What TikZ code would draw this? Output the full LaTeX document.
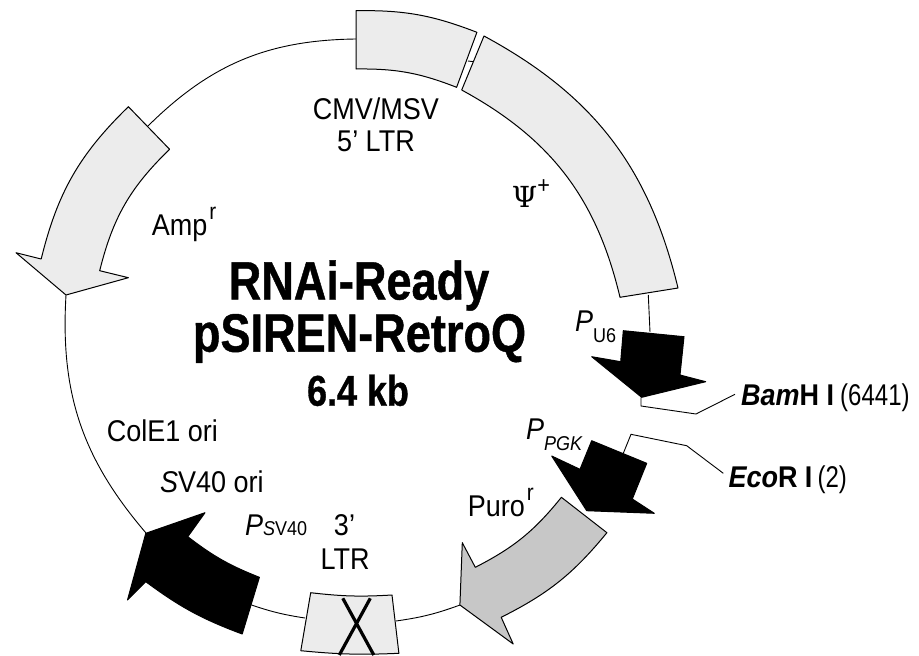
\documentclass[tikz,border=0pt]{standalone}
\usepackage{fontspec}
\setmainfont[FakeStretch=0.9]{Liberation Sans}
\newfontfamily\titlefont[UprightFont=* Bold,FakeStretch=0.835,FakeBold=0.8]{Liberation Sans}
\newfontfamily\narrowfont[FakeStretch=0.8]{Liberation Sans}
\newfontfamily\psifont{DejaVu Serif}
\tikzset{
 seg/.style={draw=black,line width=1pt,fill=#1,line join=round},
 backbone/.style={draw=black,line width=0.9pt},
 lab/.style={inner sep=0,anchor=base west,font=\fontsize{30}{30}\selectfont},
 labc/.style={inner sep=0,anchor=base,font=\fontsize{30}{30}\selectfont},
 title/.style={inner sep=0,anchor=base,font=\fontsize{54}{54}\titlefont},
 site/.style={inner sep=0,anchor=base west,font=\fontsize{30}{30}\selectfont},
}
\newcommand{\supr}{\hspace{2pt}\raisebox{16pt}{\fontsize{23}{23}\selectfont r}}
\definecolor{lgray}{gray}{0.925}
\definecolor{mgray}{gray}{0.78}
\begin{document}
\begin{tikzpicture}[x=1pt,y=-1pt]
\useasboundingbox (0,0) rectangle (919,656);
% backbone
\coordinate (n1) at (148,126);
\coordinate (n2) at (356,39);
\coordinate (n3) at (66,295);
\coordinate (n4) at (146,533);
\coordinate (n5) at (251.5,605);
\coordinate (n6) at (305,618);
\coordinate (n7) at (396,621);
\coordinate (n8) at (460,605);
\draw[backbone] (n1) to[bend left=22] (n2);
\draw[backbone] (n3) to[bend right=22] (n4);
\draw[backbone] (n5) to[bend right=5] (n6);
\draw[backbone] (n7) to[bend right=6] (n8);
\draw[backbone] (468,61) -- (473.5,61.7);
\coordinate (u1) at (648.3,295);
\coordinate (u2) at (650,332);
\draw[backbone] (u1) -- (u2);
% Amp
\draw[seg=lgray] (128.4,106.7) to[bend right=16] (41.2,259) -- (16,252.7) -- (66,295) -- (128.4,277.7) -- (99.7,270.7) to[bend left=16] (169.6,149.3) -- cycle;
% CMV
\draw[seg=lgray] (356,10.7) to[bend left=11] (476.9,32.3) -- (456.6,87.3) to[bend right=11] (356,69) -- cycle;
% Psi
\draw[seg=lgray] (484,36) to[bend left=24] (678,288) -- (620,297.3) to[bend right=24] (461.7,90) -- cycle;
% PU6
\draw[seg=black] (623.3,330.7) -- (684,336.7) -- (680,375) -- (705.7,381.7) -- (641.7,397.3) -- (591.7,356.7) -- (620.7,361.7) -- cycle;
% PGK
\draw[seg=black] (591.7,440.7) -- (646.7,463.3) -- (632.3,499) -- (654.3,513.3) -- (586.7,510.7) -- (551.7,456) -- (580,469.3) -- cycle;
% Puro
\draw[seg=mgray] (561.4,497.3) -- (606.9,532.7) to[bend left=12] (501.2,617.3) -- (513.2,644) -- (459.9,605) -- (462.3,542.7) -- (475.3,567.3) to[bend right=12] cycle;
% SV40
\draw[seg=black] (259.4,577.3) -- (242.2,634) to[bend left=8] (145.8,581.7) -- (127.5,600) -- (145.8,533.3) -- (205,512.7) -- (187.8,536.7) to[bend right=8] cycle;
% LTR
\draw[seg=lgray] (310.7,592.7) to[bend right=5] (392,595) -- (398.9,653.3) to[bend left=4] (300.8,650.7) -- cycle;
\draw[line width=3.2pt] (342.8,598.3) -- (373.8,655) (370.3,598.3) -- (339.3,655);
% leaders
\coordinate (b1) at (641,397.3);
\coordinate (b2) at (641,406);
\coordinate (b3) at (696,414);
\coordinate (b4) at (735,394.3);
\draw[backbone] (b1) -- (b2) -- (b3) -- (b4);
\coordinate (e1) at (623.3,453.3);
\coordinate (e2) at (631,434.3);
\coordinate (e3) at (686.7,445.7);
\coordinate (e4) at (723.3,473.3);
\draw[backbone] (e1) -- (e2) -- (e3) -- (e4);
% labels
\node[labc] (t1) at (376,119) {CMV/MSV};
\node[labc] (t2) at (376,151) {5' LTR};
\node[lab] (t3) at (511.7,207.7) {{\psifont\fontsize{29}{29}\selectfont Ψ}\raisebox{14pt}{\fontsize{24}{24}\selectfont +}};
\node[lab] (t4) at (151.7,235) {Amp\supr};
\node[title] (t5) at (359,299.5) {RNAi-Ready};
\node[title] (t6) at (359.5,351.7) {pSIREN-RetroQ};
\node[inner sep=0,anchor=base,font=\fontsize{43}{43}\titlefont] (t7) at (358,405.7) {6.4 kb};
\node[lab] (t8) at (106.7,441.7) {ColE1 ori};
\node[lab] (t9) at (160,492.3) {\itshape S\upshape V40 ori};
\node[lab] (t10) at (245,535.7) {\itshape P\fontsize{20}{20}\selectfont S\upshape V40};
\node[labc] (t11) at (344.5,535.7) {3'};
\node[labc] (t12) at (345,569) {LTR};
\node[lab] (t13) at (467.7,516.7) {Puro\supr};
\node[lab] (t14) at (526,439.3) {\itshape P\raisebox{-10.7pt}{\fontsize{20}{20}\selectfont PGK}};
\node[lab] (t15) at (575,331.7) {\itshape P\upshape\raisebox{-10.6pt}{\fontsize{20}{20}\selectfont U6}};
\node[site] (t16) at (741,405) {\bfseries\itshape Bam\upshape H I\hspace{6pt}{\mdseries\narrowfont (6441)}};
\node[site] (t17) at (728.3,487.3) {\bfseries\itshape Eco\upshape R I\hspace{5pt}{\mdseries\narrowfont (2)}};
\end{tikzpicture}
\end{document}
